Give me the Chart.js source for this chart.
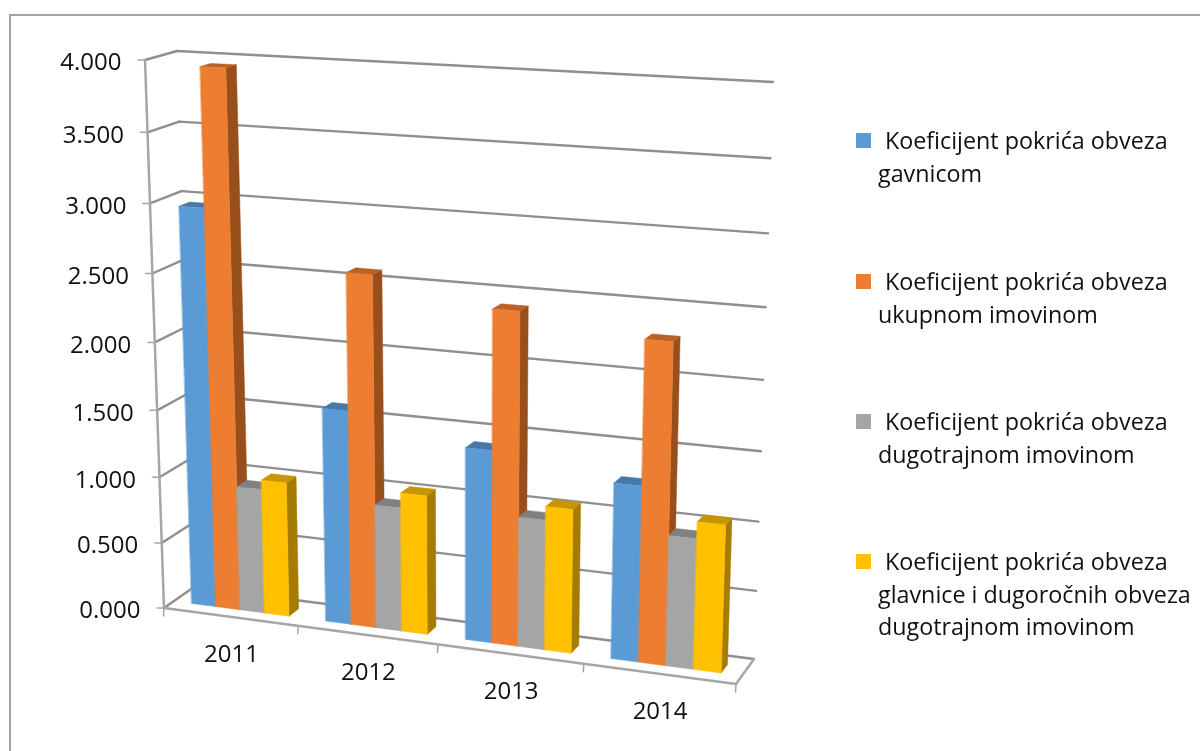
<!DOCTYPE html>
<html>
<head>
<meta charset="utf-8">
<title>Koeficijenti pokrića obveza</title>
<script src="https://cdn.jsdelivr.net/npm/chart.js@4/dist/chart.umd.min.js"></script>
<style>
    html, body { margin: 0; background: #fff; overflow: hidden; }
    #wrap { position: relative; width: 1200px; height: 751px; }
    #frame { position: absolute; left: 9px; top: 14px; width: 1300px; height: 900px; border: 2px solid #a3a3a3; }
    canvas { position: absolute; left: 0; top: 0; }
    #legend div { position: absolute; left: 878px; width: 320px; font: 23.3px/32.5px "Open Sans", sans-serif; color: #111; text-indent: 7px; }
    #legend i { position: absolute; left: -22px; top: 9px; width: 15px; height: 15px; }
</style>
</head>
<body>
<div id="wrap">
    <div id="frame"></div>
    <canvas id="chart" width="1200" height="751"></canvas>
    <div id="legend"></div>
</div>
<script>
var categories = ['2011', '2012', '2013', '2014'];
var seriesNames = [
    'Koeficijent pokrića obveza gavnicom',
    'Koeficijent pokrića obveza ukupnom imovinom',
    'Koeficijent pokrića obveza dugotrajnom imovinom',
    'Koeficijent pokrića obveza glavnice i dugoročnih obveza dugotrajnom imovinom'
];
var gavnicom = [2.96, 1.59, 1.41, 1.27];
var ukupnom = [3.95, 2.58, 2.41, 2.29];
var dugotrajnom = [0.94, 0.92, 0.95, 0.94];
var glavnice = [1.01, 1.03, 1.05, 1.06];
var tickLabels = ['0.000', '0.500', '1.000', '1.500', '2.000', '2.500', '3.000', '3.500', '4.000'];

var seriesValues = [gavnicom, ukupnom, dugotrajnom, glavnice];
var faces = [
    { front: '#5b9bd5', top: '#4778a6', side: '#386089' },
    { front: '#ed7d31', top: '#b96126', side: '#984f1c' },
    { front: '#a5a5a5', top: '#808080', side: '#6a6a6a' },
    { front: '#ffc000', top: '#c69500', side: '#a67c00' }
];
var legendTops = [124, 265, 405, 545];
var GRID = '#8f8f8f';
var AXIS = '#a6a6a6';
var FONT = '24px "Open Sans", sans-serif';

// the picture is a 3D column chart: two quads, front of the box and back wall,
// and everything on the canvas is mapped between them
var frontQuad = [[145, 60], [755, 90], [736, 684], [164, 608]];
var backQuad = [[177, 51], [773, 82], [754, 659], [194, 587]];
var barFrontDepth = 0.33, barBackDepth = 0.67;

// unit square to quad, (u, v) with v up
function quadMap(q) {
    var x0 = q[3][0], y0 = q[3][1], x1 = q[2][0], y1 = q[2][1];
    var x2 = q[1][0], y2 = q[1][1], x3 = q[0][0], y3 = q[0][1];
    var dx1 = x1 - x2, dx2 = x3 - x2, sx = x0 - x1 + x2 - x3;
    var dy1 = y1 - y2, dy2 = y3 - y2, sy = y0 - y1 + y2 - y3;
    var den = dx1 * dy2 - dx2 * dy1;
    var g = (sx * dy2 - dx2 * sy) / den;
    var h = (dx1 * sy - sx * dy1) / den;
    var a = x1 - x0 + g * x1, b = x3 - x0 + h * x3;
    var d = y1 - y0 + g * y1, e = y3 - y0 + h * y3;
    return function (u, v) {
        var w = g * u + h * v + 1;
        return [(a * u + b * v + x0) / w, (d * u + e * v + y0) / w];
    };
}
var onFront = quadMap(frontQuad), onBack = quadMap(backQuad);

function project(u, v, depth) {
    var f = onFront(u, v), b = onBack(u, v);
    return [f[0] + (b[0] - f[0]) * depth, f[1] + (b[1] - f[1]) * depth];
}

function poly(ctx, pts, fill) {
    ctx.beginPath();
    pts.forEach(function (p, i) { if (i) ctx.lineTo(p[0], p[1]); else ctx.moveTo(p[0], p[1]); });
    ctx.closePath();
    ctx.fillStyle = fill;
    ctx.fill();
    ctx.strokeStyle = fill;
    ctx.lineWidth = 0.5;
    ctx.stroke();
}

function line(ctx, a, b, colour, width) {
    ctx.beginPath();
    ctx.moveTo(a[0], a[1]);
    ctx.lineTo(b[0], b[1]);
    ctx.strokeStyle = colour;
    ctx.lineWidth = width;
    ctx.stroke();
}

var box3d = {
    id: 'box3d',
    beforeDatasetsDraw: function (chart) {
        var ctx = chart.ctx, area = chart.chartArea;
        var xs = chart.scales.x, ys = chart.scales.y;
        var toV = function (py) { return (area.bottom - py) / area.height; };
        var toU = function (px) { return (px - area.left) / area.width; };
        ctx.save();
        ctx.lineCap = 'round';

        // walls: one grid line per y tick
        ys.ticks.forEach(function (t, i) {
            var v = toV(ys.getPixelForTick(i));
            line(ctx, project(0, v, 1), project(1, v, 1), GRID, 2.4);
            line(ctx, project(0, v, 1), project(0, v, 0), GRID, 2.4);
            var a = project(0, v, 0);
            line(ctx, a, [a[0] - 7, a[1]], AXIS, 1.5);
            ctx.font = FONT;
            ctx.fillStyle = '#111';
            ctx.textAlign = 'right';
            ctx.textBaseline = 'middle';
            ctx.fillText(t.label, a[0] - 23.5, a[1] + 3.5);
        });

        // axes and floor edges
        line(ctx, project(0, 0, 0), project(0, 1, 0), AXIS, 2.5);
        line(ctx, project(0, 0, 0), project(1, 0, 0), AXIS, 2.5);
        line(ctx, project(1, 0, 0), project(1, 0, 1), AXIS, 2.5);

        var n = categories.length;
        for (var c = 0; c <= n; c++) {
            var e = project(c / n, 0, 0);
            line(ctx, e, [e[0] - 0.5, e[1] + 8], AXIS, 1.5);
        }
        xs.ticks.forEach(function (t, i) {
            var p = project(toU(xs.getPixelForTick(i)), 0, 0);
            ctx.font = FONT;
            ctx.fillStyle = '#111';
            ctx.textAlign = 'center';
            ctx.textBaseline = 'middle';
            ctx.fillText(categories[i], p[0] + 1, p[1] + 38);
        });

        // columns, left to right so each one covers the side of the last
        for (var k = 0; k < n; k++) {
            chart.data.datasets.forEach(function (ds, s) {
                var el = chart.getDatasetMeta(s).data[k];
                var l = toU(el.x - el.width / 2), r = toU(el.x + el.width / 2);
                var top = toV(el.y), base = toV(el.base);
                var f = barFrontDepth, b = barBackDepth;
                poly(ctx, [project(r, top, f), project(r, top, b), project(r, base, b), project(r, base, f)], faces[s].side);
                poly(ctx, [project(l, top, f), project(l, top, b), project(r, top, b), project(r, top, f)], faces[s].top);
                poly(ctx, [project(l, top, f), project(r, top, f), project(r, base, f), project(l, base, f)], faces[s].front);
            });
        }
        ctx.restore();
        return false;
    }
};

new Chart(document.getElementById('chart'), {
    type: 'bar',
    data: {
        labels: categories,
        datasets: seriesValues.map(function (values, i) {
            return { label: seriesNames[i], data: values, backgroundColor: faces[i].front, borderWidth: 0 };
        })
    },
    options: {
        responsive: false,
        animation: false,
        events: [],
        datasets: { bar: { categoryPercentage: 0.73, barPercentage: 1 } },
        plugins: { legend: { display: false }, tooltip: { enabled: false } },
        scales: {
            x: { ticks: { display: false }, grid: { display: false }, border: { display: false } },
            y: {
                min: 0,
                max: 4,
                ticks: {
                    display: false,
                    stepSize: 0.5,
                    callback: function (value, i) { return tickLabels[i]; }
                },
                grid: { display: false },
                border: { display: false }
            }
        }
    },
    plugins: [box3d]
});

var legend = document.getElementById('legend');
seriesNames.forEach(function (name, i) {
    var row = document.createElement('div');
    row.style.top = legendTops[i] + 'px';
    row.textContent = name;
    var key = document.createElement('i');
    key.style.background = faces[i].front;
    row.appendChild(key);
    legend.appendChild(row);
});
</script>
</body>
</html>
